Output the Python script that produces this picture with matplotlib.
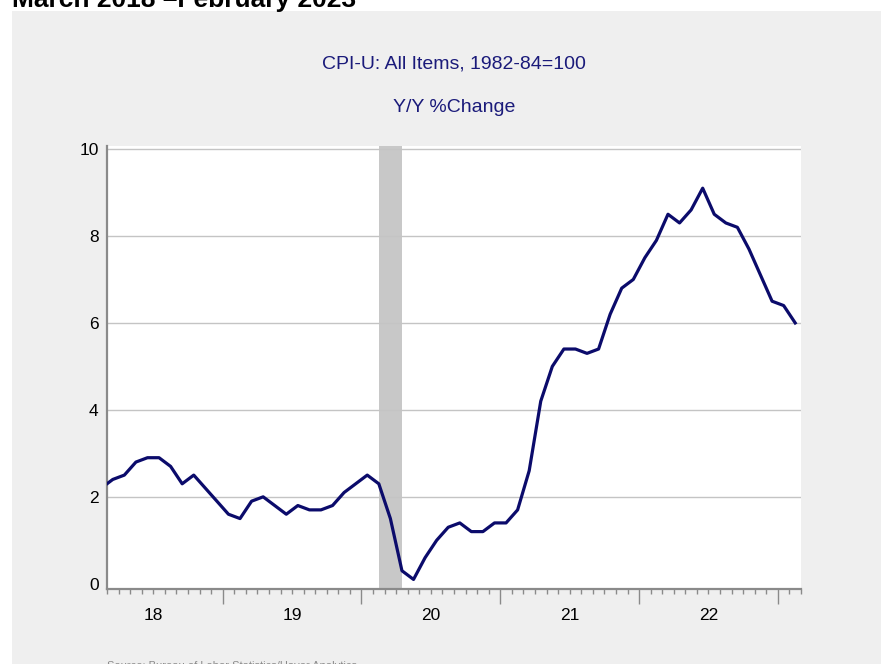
import numpy as np
import matplotlib.pyplot as plt
from matplotlib.patches import Rectangle

plt.rcParams['font.family'] = ['Liberation Sans', 'DejaVu Sans']

# CPI-U y/y % change, Feb 2018 (just off the left edge) through Feb 2023
cpi_yoy = [2.2,
           2.4, 2.5, 2.8, 2.9, 2.9, 2.7, 2.3, 2.5, 2.2, 1.9,
           1.6, 1.5, 1.9, 2.0, 1.8, 1.6, 1.8, 1.7, 1.7, 1.8, 2.1, 2.3,
           2.5, 2.3, 1.5, 0.3, 0.1, 0.6, 1.0, 1.3, 1.4, 1.2, 1.2, 1.4,
           1.4, 1.7, 2.6, 4.2, 5.0, 5.4, 5.4, 5.3, 5.4, 6.2, 6.8, 7.0,
           7.5, 7.9, 8.5, 8.3, 8.6, 9.1, 8.5, 8.3, 8.2, 7.7, 7.1, 6.5,
           6.4, 6.0]
year_labels = ['18', '19', '20', '21', '22']
# recession shading, in months counted from Mar 2018
rec_months = (23, 25)   # Feb 2020 .. Apr 2020

# monthly positions: Mar 2018 occupies [0, 1), points drawn mid-month
months = np.arange(-1, len(cpi_yoy) - 1)
x = months + 0.5
n_months = 60
jan_pos = np.arange(10, n_months + 1, 12)
mid_pos = np.arange(4, n_months, 12)

fig = plt.figure(figsize=(8.81, 6.64), dpi=100)
fig.patches.append(Rectangle((12 / 881, 0), 1, 1 - 11 / 664, transform=fig.transFigure,
                             facecolor='#efefef', edgecolor='none', zorder=-10))

fig.text(12 / 881, 1 - 7 / 664, 'March 2018 \u2013February 2023', fontsize=19,
         fontweight='bold', color='black', ha='left', va='baseline')

ax = fig.add_axes([107 / 881, 75 / 664, 694 / 881, 443 / 664])
ax.set_facecolor('white')

ax.axvspan(rec_months[0] + 0.5, rec_months[1] + 0.5, color='#c8c8c8', lw=0, zorder=0)
ax.plot(x, cpi_yoy, color='#0b0b6b', lw=2.3, zorder=3, solid_joinstyle='round')

ax.set_xlim(0, n_months)
ax.set_ylim(-0.12, 10.07)
ax.set_yticks([0, 2, 4, 6, 8, 10])
ax.yaxis.grid(True, color='#c4c4c4', lw=1.0, zorder=1)
ax.yaxis.get_gridlines()[0].set_visible(False)
ax.set_axisbelow(True)

for s in ['top', 'right']:
    ax.spines[s].set_visible(False)
for s in ['left', 'bottom']:
    ax.spines[s].set_color('#8a8a8a')
    ax.spines[s].set_linewidth(1.6)

ax.tick_params(axis='y', length=0, pad=6, labelsize=12.5, labelcolor='black')
ax.set_xticks(jan_pos)
ax.set_xticklabels([])
ax.set_xticks(np.arange(0, n_months + 1), minor=True)
ax.tick_params(axis='x', which='major', length=11, width=1.0, color='#8a8a8a')
ax.tick_params(axis='x', which='minor', length=3.5, width=1.0, color='#8a8a8a')

sec = ax.secondary_xaxis('bottom')
sec.set_xticks(mid_pos)
sec.set_xticklabels(year_labels)
sec.tick_params(length=0, pad=14, labelsize=12.5, labelcolor='black')
sec.spines['bottom'].set_visible(False)

fig.text(454 / 881, 1 - 64 / 664, 'CPI-U: All Items, 1982-84=100', fontsize=14,
         color='#1a1a7a', ha='center', va='center')
fig.text(454 / 881, 1 - 108 / 664, 'Y/Y %Change', fontsize=14,
         color='#1a1a7a', ha='center', va='center')

fig.text(107 / 881, 3 / 664, 'Source: Bureau of Labor Statistics/Haver Analytics',
         fontsize=8, color='#8a8a8a', ha='left', va='top')

fig.savefig('out.png', dpi=100)
